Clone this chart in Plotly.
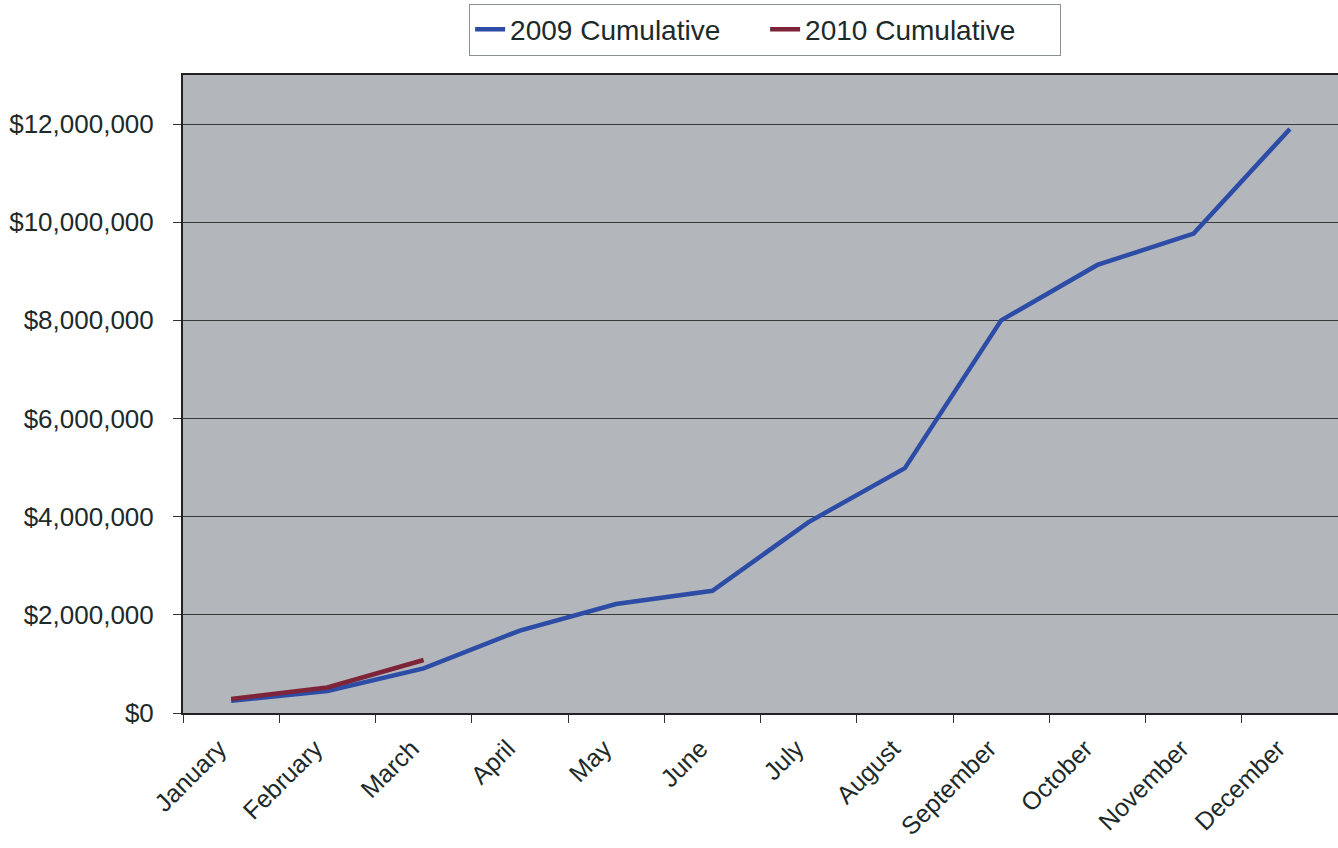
import plotly.graph_objects as go

months = ["January", "February", "March", "April", "May", "June", "July",
          "August", "September", "October", "November", "December"]
cumulative_2009 = [250000, 450000, 910000, 1680000, 2220000, 2490000,
                   3890000, 4990000, 8000000, 9130000, 9770000, 11900000]
cumulative_2010 = [285000, 520000, 1080000]

y_ticks = [0, 2000000, 4000000, 6000000, 8000000, 10000000, 12000000]
y_labels = ["$0", "$2,000,000", "$4,000,000", "$6,000,000", "$8,000,000",
            "$10,000,000", "$12,000,000"]

font_family = "Liberation Sans, Arial, sans-serif"
text_color = "#1c2a2a"

fig = go.Figure()
fig.add_trace(go.Scatter(
    x=months, y=cumulative_2009, mode="lines", name="2009 Cumulative",
    line=dict(color="#2c4ca6", width=4.5),
))
fig.add_trace(go.Scatter(
    x=months[:len(cumulative_2010)], y=cumulative_2010, mode="lines",
    name="2010 Cumulative",
    line=dict(color="#7e2438", width=4.5),
))

fig.update_layout(
    width=1338, height=848,
    margin=dict(l=183, r=0, t=75, b=135),
    paper_bgcolor="white",
    plot_bgcolor="#b3b6bb",
    font=dict(family=font_family, size=26, color=text_color),
    showlegend=True,
    legend=dict(
        orientation="h", x=0.504, xanchor="center", y=1.112, yanchor="top",
        bgcolor="white", bordercolor="#8a8f8f", borderwidth=1,
        font=dict(size=28, color=text_color),
        entrywidth=250, entrywidthmode="pixels",
    ),
)

fig.update_xaxes(
    type="category", categoryorder="array", categoryarray=months,
    range=[-0.5, 11.5], automargin=False,
    tickangle=-45, ticks="outside", tickson="boundaries", ticklen=8,
    tickcolor="#333333", ticklabelstandoff=9, ticklabelshift=-12,
    showline=True, linecolor="#222222", linewidth=2, mirror=True,
    showgrid=False,
    tickfont=dict(size=25, color=text_color),
)
fig.update_yaxes(
    range=[0, 13000000], automargin=False,
    tickvals=y_ticks, ticktext=y_labels,
    ticks="outside", ticklen=8, tickcolor="#333333",
    ticklabelstandoff=14,
    showline=True, linecolor="#222222", linewidth=2,
    showgrid=True, gridcolor="#3a3a3a", gridwidth=1,
    zeroline=False,
    tickfont=dict(size=26, color=text_color),
)

fig.write_html("out.html")
